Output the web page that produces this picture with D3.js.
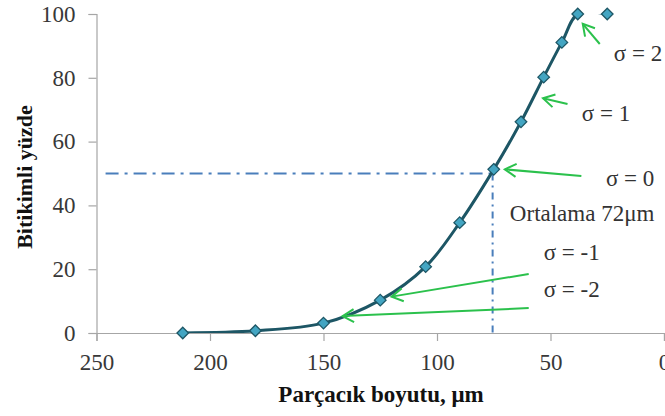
<!DOCTYPE html>
<html>
<head>
<meta charset="utf-8">
<script src="https://cdn.jsdelivr.net/npm/d3@7"></script>
<style>
  body { margin: 0; background: #fff; }
  svg text { font-family: "Liberation Serif", "Times New Roman", "DejaVu Serif", serif; }
</style>
</head>
<body>
<div id="chart"></div>
<script>
"use strict";

const SERIF = "'Liberation Serif', 'Times New Roman', 'DejaVu Serif', serif";

// particle size (um) and cumulative percent
const sizes = [212, 180, 150, 125, 105, 90, 75, 63, 53, 45, 38, 25];
const percents = [0, 0.7, 3.1, 10.3, 20.8, 34.6, 51.3, 66.2, 80.2, 91.1, 100, 100];

const xTicks = [250, 200, 150, 100, 50, 0];
const yTicks = [0, 20, 40, 60, 80, 100];

// mean guide line (dash-dot)
const meanSize = 75.5;
const meanPercent = 50;
const meanStart = 246;

// sigma labels and arrows, in data units: [tailX, tailY, headX, headY]
const arrows = [
  [28.3, 90.6, 35.8, 96.9],
  [42.5, 71.8, 53.3, 73.6],
  [36.4, 49.2, 70.1, 51.3],
  [59.6, 18.5, 120, 11.4],
  [59.6, 7.8, 141.6, 5.3]
];
const labels = ["σ = 2", "σ = 1", "σ = 0", "Ortalama 72μm", "σ = -1", "σ = -2"];
const labelX = [22.1, 36.2, 25.6, 67.9, 53, 53];
const labelY = [85.3, 66.5, 46.1, 35.1, 22.9, 11.3];

const width = 665, height = 416;

const svg = d3.select("#chart")
  .append("svg")
  .attr("width", width)
  .attr("height", height)
  .attr("font-family", SERIF);

const x = d3.scaleLinear().domain([250, 0]).range([96.5, 664]);
const y = d3.scaleLinear().domain([0, 100]).range([333, 14]);

// axes
const xAxis = svg.append("g")
  .attr("transform", `translate(0,${y(0)})`)
  .call(d3.axisBottom(x).tickValues(xTicks).tickSize(8).tickPadding(13).tickFormat(d3.format("d")));
const yAxis = svg.append("g")
  .attr("transform", `translate(${x(250)},0)`)
  .call(d3.axisLeft(y).tickValues(yTicks).tickSize(8).tickPadding(13).tickFormat(d3.format("d")));

for (const ax of [xAxis, yAxis]) {
  ax.attr("font-family", SERIF).attr("font-size", 23);
  ax.select(".domain").attr("stroke", "#a6a6a6").attr("stroke-width", 1.2);
  ax.selectAll(".tick line").attr("stroke", "#a6a6a6").attr("stroke-width", 1.2);
  ax.selectAll(".tick text")
    .attr("fill", "#383838")
    .attr("font-family", SERIF);
}

// axis titles
svg.append("text")
  .attr("x", 381)
  .attr("y", 402)
  .attr("text-anchor", "middle")
  .attr("font-family", SERIF)
  .attr("font-weight", "bold")
  .attr("font-size", 23)
  .attr("fill", "#111")
  .text("Parçacık boyutu, μm");

svg.append("text")
  .attr("transform", "translate(32,177) rotate(-90)")
  .attr("text-anchor", "middle")
  .attr("font-family", SERIF)
  .attr("font-weight", "bold")
  .attr("font-size", 22)
  .attr("fill", "#111")
  .text("Bitikimli yüzde");

// dash-dot guides to the mean
const guide = svg.append("g")
  .attr("stroke", "#4a7ebb")
  .attr("stroke-width", 2)
  .attr("fill", "none");
guide.append("line")
  .attr("x1", x(meanStart)).attr("y1", y(meanPercent))
  .attr("x2", x(meanSize)).attr("y2", y(meanPercent))
  .attr("stroke-dasharray", "13,6,3,6");
guide.append("line")
  .attr("x1", x(meanSize)).attr("y1", y(meanPercent))
  .attr("x2", x(meanSize)).attr("y2", y(0))
  .attr("stroke-dasharray", "7,5,2,5");

// smooth curve, clipped to the plot area like excel does
svg.append("clipPath")
  .attr("id", "plot-clip")
  .append("rect")
  .attr("x", x(250))
  .attr("y", y(100))
  .attr("width", x(0) - x(250))
  .attr("height", y(0) - y(100));

const points = sizes.map((s, i) => [s, percents[i]]);

const line = d3.line()
  .x(d => x(d[0]))
  .y(d => y(d[1]))
  .curve(d3.curveCardinal.tension(0));

svg.append("path")
  .datum(points)
  .attr("clip-path", "url(#plot-clip)")
  .attr("d", line)
  .attr("fill", "none")
  .attr("stroke", "#1d5665")
  .attr("stroke-width", 3);

// diamond markers
svg.selectAll(".marker")
  .data(points)
  .enter()
  .append("path")
  .attr("class", "marker")
  .attr("d", d3.symbol().type(d3.symbolDiamond2).size(85))
  .attr("transform", d => `translate(${x(d[0])},${y(d[1])})`)
  .attr("fill", "#43a5c2")
  .attr("stroke", "#1d5665")
  .attr("stroke-width", 1.3);

// green arrows
const arrowG = svg.append("g")
  .attr("stroke", "#2bc14c")
  .attr("stroke-width", 2)
  .attr("fill", "none");

for (const a of arrows) {
  const x1 = x(a[0]), y1 = y(a[1]), x2 = x(a[2]), y2 = y(a[3]);
  const ang = Math.atan2(y2 - y1, x2 - x1);
  const len = 13, spread = Math.PI / 6;
  arrowG.append("line")
    .attr("x1", x1).attr("y1", y1)
    .attr("x2", x2).attr("y2", y2);
  arrowG.append("path")
    .attr("d", `M${x2 - len * Math.cos(ang - spread)},${y2 - len * Math.sin(ang - spread)}` +
      `L${x2},${y2}` +
      `L${x2 - len * Math.cos(ang + spread)},${y2 - len * Math.sin(ang + spread)}`);
}

// sigma labels
svg.selectAll(".sigma")
  .data(labels)
  .enter()
  .append("text")
  .attr("class", "sigma")
  .attr("x", (d, i) => x(labelX[i]))
  .attr("y", (d, i) => y(labelY[i]))
  .attr("font-family", SERIF)
  .attr("font-size", 23)
  .attr("fill", "#333")
  .text(d => d);
</script>
</body>
</html>
